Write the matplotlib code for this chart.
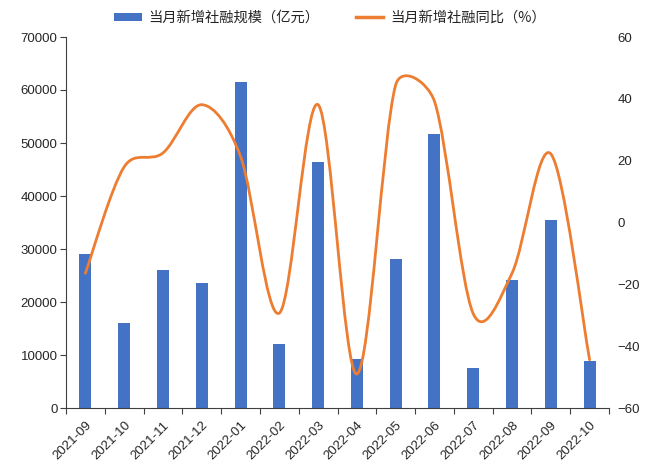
import numpy as np
import matplotlib
matplotlib.use("Agg")
import matplotlib.pyplot as plt
from matplotlib.path import Path
from matplotlib.patches import PathPatch, Patch
from matplotlib.lines import Line2D

plt.rcParams["font.family"] = ["Liberation Sans", "Noto Sans CJK SC", "DejaVu Sans"]

# data
months = ["2021-09", "2021-10", "2021-11", "2021-12", "2022-01", "2022-02", "2022-03",
          "2022-04", "2022-05", "2022-06", "2022-07", "2022-08", "2022-09", "2022-10"]
new_financing = [29000, 16100, 26000, 23500, 61600, 12000, 46400,
                 9300, 28200, 51700, 7500, 24200, 35400, 8900]
yoy_pct = [-16.4, 18.0, 22.5, 38.1, 21.4, -29.3, 38.1,
           -49.0, 44.5, 39.2, -29.5, -16.4, 22.2, -44.4]

bar_label = "当月新增社融规模（亿元）"
line_label = "当月新增社融同比（%）"

BLUE = "#4472C4"
ORANGE = "#ED7D31"
TEXT = "#262626"


def smooth_path(ax, xs, ys):
    """
    Excel-like smoothed line: cubic bezier segments with 1/6 tension,
    handles capped at half the segment length (worked out in pixels).
    """
    trans = ax.transData
    pts = trans.transform(np.column_stack([xs, ys]))
    n = len(pts)
    verts = [pts[0]]
    codes = [Path.MOVETO]
    for i in range(n - 1):
        p0 = pts[i - 1] if i > 0 else pts[i]
        p1 = pts[i]
        p2 = pts[i + 1]
        p3 = pts[i + 2] if i + 2 < n else pts[i + 1]
        d12 = np.hypot(*(p2 - p1))
        d02 = np.hypot(*(p2 - p0))
        d13 = np.hypot(*(p3 - p1))
        f = 1 / 6 if d02 / 6 < d12 / 2 else d12 / (2 * d02)
        g = 1 / 6 if d13 / 6 < d12 / 2 else d12 / (2 * d13)
        verts += [p1 + f * (p2 - p0), p2 - g * (p3 - p1), p2]
        codes += [Path.CURVE4] * 3
    # back to data coordinates so the patch follows the axes
    return Path(trans.inverted().transform(np.array(verts)), codes)


fig = plt.figure(figsize=(6.5, 4.65), dpi=100)
ax = fig.add_axes([66 / 650, 1 - 408 / 465, (609 - 66) / 650, (408 - 37) / 465])
ax2 = ax.twinx()

x = np.arange(len(months))
ax.bar(x, new_financing, width=0.31, color=BLUE, zorder=2)

ax.set_xlim(-0.5, len(months) - 0.5)
ax.set_ylim(0, 70000)
ax2.set_ylim(-60, 60)

ax2.add_patch(PathPatch(smooth_path(ax2, x, yoy_pct), facecolor="none",
                        edgecolor=ORANGE, linewidth=2.0, capstyle="round", zorder=3))

ax.set_yticks(np.arange(0, 70001, 10000))
ax2.set_yticks(np.arange(-60, 61, 20))

# category boundaries get the tick marks, labels sit under the bars
ax.set_xticks(np.arange(-0.5, len(months), 1))
ax.set_xticklabels([])
ax.set_xticks(x, minor=True)
ax.set_xticklabels(months, minor=True, rotation=45, ha="right",
                   rotation_mode="anchor", fontsize=9.5, color=TEXT)
ax.tick_params(axis="x", which="major", length=4, width=0.8, color="#404040")
ax.tick_params(axis="x", which="minor", length=0, pad=8)
ax.tick_params(axis="y", length=4, width=0.8, color="#404040", labelsize=9.5,
               labelcolor=TEXT, pad=2)
ax2.tick_params(axis="y", length=0, labelsize=9.5, labelcolor=TEXT, pad=6)

for s in ["top", "right"]:
    ax.spines[s].set_visible(False)
for s in ax2.spines.values():
    s.set_visible(False)
ax.spines["left"].set_color("#404040")
ax.spines["bottom"].set_color("#404040")

handles = [Patch(facecolor=BLUE, edgecolor="none"),
           Line2D([0], [0], color=ORANGE, linewidth=2.5)]
fig.legend(handles, [bar_label, line_label], loc="center", ncol=2,
           bbox_to_anchor=(330 / 650, 1 - 18 / 465), frameon=False,
           prop={"family": ["Noto Sans CJK SC", "DejaVu Sans"], "size": 10.3, "weight": "light"},
           handlelength=1.9, handleheight=0.55, handletextpad=0.5, columnspacing=2.5,
           labelcolor=TEXT)

fig.savefig("out.png", dpi=100)
